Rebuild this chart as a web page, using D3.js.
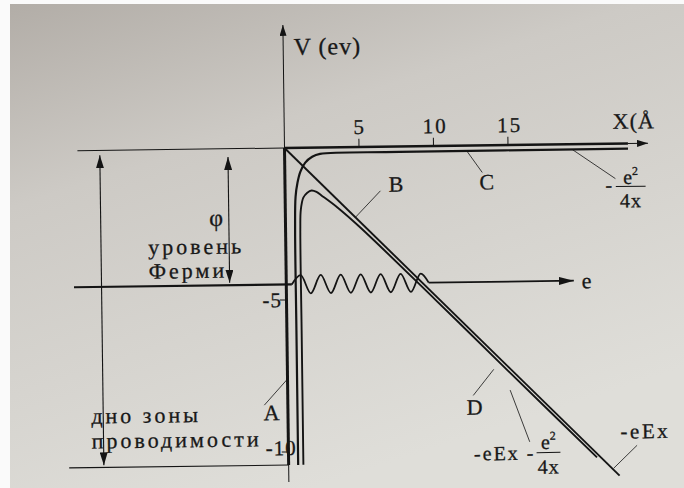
<!DOCTYPE html>
<html>
<head>
<meta charset="utf-8">
<script src="https://cdn.jsdelivr.net/npm/d3@7"></script>
<style>
  body { margin: 0; background: #fff; }
  svg { display: block; }
  svg text { fill: #181818; stroke: #181818; stroke-width: 0.3; }
</style>
</head>
<body>
<div id="chart"></div>
<script>
// size of the photo
const W = 684, H = 488;

// ---- values (x in Angstrom, V in eV) ----
const xTicks = [5, 10, 15];
const yTicks = [-5, -10];
const fermiLevel = -4.49;
const bandBottom = -10.43;

// B : -eEx
const fieldLine = [[0, 0], [22.2, -10.92]];
// C : -e^2/4x
const imageCurve = [[0.64, -10.43], [0.64, -6.0], [0.64, -2.7], [0.70, -1.61], [0.84, -1.15],
  [1.04, -0.79], [1.38, -0.49], [1.85, -0.30], [2.38, -0.21], [7.7, -0.18], [23.05, -0.17]];
// D : -eEx - e^2/4x
const totalCurve = [[0.99, -10.43], [0.99, -6.0], [0.99, -2.7], [1.04, -2.04], [1.22, -1.64],
  [1.49, -1.48], [1.78, -1.41], [2.11, -1.46], [2.50, -1.60], [3.5, -1.98], [5, -2.64],
  [10, -5.06], [15, -7.52], [20.7, -10.31]];
// electron wave tunnelling through the barrier
const wavePoints = [[0.37, -4.49], [0.97, -4.19], [1.64, -4.79], [2.32, -4.19], [2.99, -4.79],
  [3.66, -4.19], [4.33, -4.79], [5.0, -4.19], [5.67, -4.79], [6.34, -4.19], [7.01, -4.79],
  [7.68, -4.19], [8.36, -4.79], [9.03, -4.19], [9.56, -4.49]];

// ---- scales ----
let x = d3.scaleLinear().domain([0, 15]).range([284.5, 508]);
let y = d3.scaleLinear().domain([0, -10]).range([148, 452]);

let svg = d3.select("#chart").append("svg")
  .attr("width", W)
  .attr("height", H)
  .style("font-family", '"Liberation Serif", "DejaVu Serif", serif');

// paper background
let defs = svg.append("defs");
let grad = defs.append("linearGradient").attr("id", "paper")
  .attr("x1", 0).attr("y1", 0).attr("x2", 0.45).attr("y2", 1);
grad.append("stop").attr("offset", 0).attr("stop-color", "#b2ada7");
grad.append("stop").attr("offset", 0.35).attr("stop-color", "#cdcac5");
grad.append("stop").attr("offset", 1).attr("stop-color", "#dfded9");

svg.append("rect").attr("width", W).attr("height", H).attr("fill", "#fafafa");
svg.append("rect").attr("x", 10).attr("y", 4).attr("width", W - 10).attr("height", H - 4)
  .attr("fill", "url(#paper)");

// arrow heads
function marker(id, len, half) {
  defs.append("marker")
    .attr("id", id)
    .attr("viewBox", `0 ${-half} ${len} ${half * 2}`)
    .attr("refX", len).attr("refY", 0)
    .attr("markerUnits", "userSpaceOnUse")
    .attr("markerWidth", len).attr("markerHeight", half * 2)
    .attr("orient", "auto-start-reverse")
    .append("path")
    .attr("d", `M0,${-half}L${len},0L0,${half}Z`)
    .attr("fill", "#141414");
}
marker("axisArrow", 11, 3.5);
marker("bigArrow", 13, 4);
marker("eArrow", 15, 4);

const ink = "#141414";
let line = d3.line().x(d => x(d[0])).y(d => y(d[1]));

// the page is photographed slightly turned
let g = svg.append("g")
  .attr("transform", `rotate(-0.75, ${x(0)}, ${y(0)})`);

function seg(pts, w, mk) {
  let p = g.append("path").attr("d", line(pts))
    .attr("fill", "none").attr("stroke", ink).attr("stroke-width", w);
  if (mk) p.attr("marker-end", `url(#${mk})`);
  return p;
}

// ---- axes ----
seg([[-13.9, 0], [0, 0]], 1);                   // thin left part of x axis
seg([[0, 0], [23.05, 0]], 2.6);                 // vacuum level
seg([[23.05, 0], [24.4, 0]], 1, "axisArrow");   // arrow of x axis
seg([[0, 0], [0, 4.05]], 1, "axisArrow");       // y axis upward
seg([[0, 0], [0, bandBottom]], 3);              // wall of the metal
seg([[0, bandBottom], [0, -10.99]], 1);

xTicks.forEach(t => {
  seg([[t, 0], [t, 0.27]], 1);
  g.append("text")
    .attr("x", x(t) + (t >= 10 ? 2 : 0))
    .attr("y", y(0) - 13)
    .attr("text-anchor", "middle")
    .attr("font-size", 21)
    .attr("letter-spacing", t >= 10 ? 2 : 0)
    .text(t);
});

yTicks.forEach(t => {
  seg([[-0.45, t], [0, t]], 1);
  g.append("text")
    .attr("x", t === -5 ? x(-0.3) : x(0.55))
    .attr("y", y(t) + (t === -5 ? 7 : 3))
    .attr("text-anchor", "end")
    .attr("font-size", 21)
    .attr("letter-spacing", 1)
    .text("-" + Math.abs(t));
});

g.append("text").attr("x", x(0.7)).attr("y", y(3.06))
  .attr("font-size", 24).attr("letter-spacing", 1).text("V (ev)");
g.append("text").attr("x", x(22.05)).attr("y", y(0.49))
  .attr("font-size", 22).attr("letter-spacing", 1).text("X(Å");

// ---- levels ----
seg([[-14.25, fermiLevel], [0.37, fermiLevel]], 2.2);     // Fermi level
seg([[-14.73, bandBottom], [0, bandBottom]], 1.1);        // bottom of the band

// ---- potential curves ----
let smooth = d3.line().x(d => x(d[0])).y(d => y(d[1])).curve(d3.curveCatmullRom.alpha(0.5));
seg(fieldLine, 1.9);
g.append("path").attr("d", smooth(imageCurve))
  .attr("fill", "none").attr("stroke", ink).attr("stroke-width", 2.2);
g.append("path").attr("d", smooth(totalCurve))
  .attr("fill", "none").attr("stroke", ink).attr("stroke-width", 1.9);

// ---- electron wave ----
let wave = d3.line().x(d => x(d[0])).y(d => y(d[1])).curve(d3.curveMonotoneX);
g.append("path").attr("d", wave(wavePoints))
  .attr("fill", "none").attr("stroke", ink).attr("stroke-width", 1.8);
seg([[9.56, fermiLevel], [19.3, fermiLevel]], 1.8, "eArrow");
g.append("text").attr("x", x(19.83)).attr("y", y(-4.74))
  .attr("font-size", 22).text("e");

// ---- work function and band depth arrows ----
seg([[-3.8, -0.27], [-3.8, -4.41]], 1.1, "bigArrow").attr("marker-start", "url(#bigArrow)");
seg([[-12.4, -0.16], [-12.4, -10.36]], 1.1, "bigArrow").attr("marker-start", "url(#bigArrow)");

g.append("text").attr("x", x(-4.66)).attr("y", y(-2.53))
  .attr("text-anchor", "middle").attr("font-size", 24).text("φ");
g.append("text").attr("x", x(-9.23)).attr("y", y(-3.45))
  .attr("font-size", 22).attr("letter-spacing", 3).text("уровень");
g.append("text").attr("x", x(-9.23)).attr("y", y(-4.24))
  .attr("font-size", 22).attr("letter-spacing", 3).text("Ферми");
g.append("text").attr("x", x(-13.2)).attr("y", y(-8.98))
  .attr("font-size", 22).attr("letter-spacing", 3).text("дно зоны");
g.append("text").attr("x", x(-13.2)).attr("y", y(-9.8))
  .attr("font-size", 22).attr("letter-spacing", 3).text("проводимости");

// ---- leader lines and letters ----
const leaders = [
  [[4.7, -2.31], [6.4, -1.45]],      // B
  [[12.25, -0.19], [13.25, -0.89]],  // C
  [[19.3, -0.17], [22.18, -1.15]],   // -e2/4x
  [[0, -7.6], [-1.58, -8.45]],       // A
  [[13.85, -7.37], [12.45, -8.22]],  // D
  [[14.93, -8.06], [16.2, -9.77]],   // -eEx - e2/4x
  [[23.4, -9.93], [21.8, -10.68]]    // -eEx
];
leaders.forEach(l => seg(l, 0.8));

const letters = [["B", 6.95, -1.48], ["C", 13.05, -1.45], ["A", -1.64, -8.95], ["D", 12.0, -8.85]];
letters.forEach(l => {
  g.append("text").attr("x", x(l[1])).attr("y", y(l[2])).attr("font-size", 22).text(l[0]);
});

g.append("text").attr("x", x(22.3)).attr("y", y(-9.7))
  .attr("font-size", 21).attr("letter-spacing", 2.5).text("-eEx");
g.append("text").attr("x", x(12.45)).attr("y", y(-10.36))
  .attr("font-size", 20).attr("letter-spacing", 2).text("-eEx -");

// fractions e^2 / 4x
function fraction(cx, vTop, vLine, vBot, halfW) {
  let t = g.append("text").attr("x", x(cx)).attr("y", y(vTop))
    .attr("text-anchor", "middle").attr("font-size", 20);
  t.append("tspan").text("e");
  t.append("tspan").attr("font-size", 12).attr("dy", -9).text("2");
  seg([[cx - halfW, vLine], [cx + halfW, vLine]], 1);
  g.append("text").attr("x", x(cx)).attr("y", y(vBot))
    .attr("text-anchor", "middle").attr("font-size", 20).attr("letter-spacing", 1).text("4x");
}
g.append("text").attr("x", x(21.5)).attr("y", y(-1.58)).attr("font-size", 20).text("-");
fraction(23.2, -1.33, -1.41, -2.1, 1.0);
fraction(17.45, -10.01, -10.13, -10.82, 0.8);
</script>
</body>
</html>
